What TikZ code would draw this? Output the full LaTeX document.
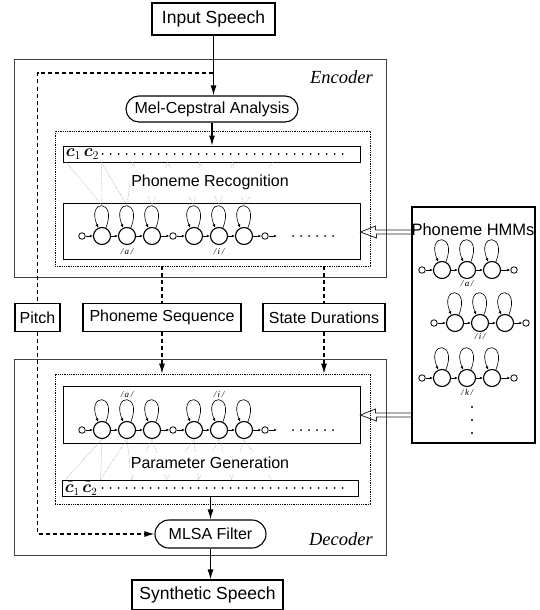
\documentclass[tikz,border=0pt]{standalone}
\usepackage{bm}
\usepackage{fontspec}
\setmainfont{Liberation Serif}
\setsansfont{Liberation Sans}
\usetikzlibrary{arrows.meta}

\newcommand{\tristate}[3]{%
  \foreach \k in {1,2,3}{
    \node[hstate] (#1\k) at ({#2+25*(\k-1)},#3) {};
    \draw[selfloop] (#1\k.65) .. controls +(12,-29) and +(-12,-29) .. (#1\k.115);
  }
  \draw[tr] (#11)--(#12);
  \draw[tr] (#12)--(#13);
}

\begin{document}
\begin{tikzpicture}[x=1pt,y=-1pt,
  blk/.style={draw, line width=1.1pt, font=\sffamily\fontsize{16}{18}\selectfont, inner sep=0pt},
  big/.style={blk, font=\sffamily\fontsize{17.5}{19}\selectfont},
  oval/.style={blk, rounded corners=13pt},
  frame/.style={draw, black!75, line width=0.9pt, inner sep=0pt},
  inbox/.style={draw, densely dotted, line width=0.8pt, inner sep=0pt},
  bar/.style={draw, line width=0.9pt, inner sep=0pt},
  hstate/.style={circle, draw, line width=1.1pt, minimum size=17pt, inner sep=0pt},
  term/.style={circle, draw, line width=0.8pt, minimum size=6.5pt, inner sep=0pt},
  tr/.style={-{Latex[length=3pt,width=2.6pt]}, line width=0.6pt},
  selfloop/.style={-{Latex[length=3.5pt,width=3pt]}, line width=0.6pt},
  sig/.style={-{Latex[length=10pt,width=6pt]}, line width=1.1pt},
  dsh/.style={dash pattern=on 4pt off 3pt, line width=1.1pt},
  fr/.style={gray!70, densely dotted, line width=0.6pt},
  feed/.style={line width=0.8pt, black!85},
  phn/.style={font=\itshape\fontsize{9}{10}\selectfont, inner sep=0pt},
  lbl/.style={font=\itshape\fontsize{18.5}{20}\selectfont, anchor=east, inner sep=0pt},
  txt/.style={font=\sffamily\fontsize{16}{18}\selectfont, fill=white}]

\useasboundingbox (0,0) rectangle (540,610);

\node[big, minimum width=123pt, minimum height=32pt] (inp) at (213.5,19) {Input Speech};
\node[frame, minimum width=372pt, minimum height=218pt] (enc) at (200,168) {};
\node[lbl] at (373,77) {Encoder};
\node[oval, minimum width=172pt, minimum height=26pt] (mel) at (212,109) {Mel-Cepstral Analysis};
\node[inbox, minimum width=315pt, minimum height=135pt] (edot) at (212.5,198.5) {};
\node[bar, minimum width=297pt, minimum height=16pt] (cbar) at (211.5,154) {};
\node[anchor=west, inner sep=0pt, font=\fontsize{16.5}{17}\selectfont] at ([xshift=3pt]cbar.west)
  {$\bm{c}_1\,\bm{c}_2$};
\foreach \k in {0,...,30} \fill ([xshift=40+8*\k]cbar.west) circle (1pt);
\node[bar, minimum width=297pt, minimum height=56pt] (erow) at (211.5,231) {};

% encoder HMM row
\node[term] (ea) at (82,236) {};
\tristate{ea}{102}{236}
\node[term] (em) at (173,236) {};
\tristate{ei}{194}{236}
\node[term] (ez) at (265,236) {};
\coordinate (et) at (277,236);
\draw[tr] (ea)--(ea1); \draw[tr] (ea3)--(em); \draw[tr] (em)--(ei1); \draw[tr] (ei3)--(ez); \draw[tr] (ez)--(et);
\foreach \k in {0,...,5} \fill (293+8*\k,236) circle (1pt);
\node[phn] at ([yshift=-16pt]ea2.center) {/\kern1.5pt a\kern1.5pt/};
\node[phn] at ([yshift=-16pt]ei2.center) {/\kern1.5pt i\kern1.5pt/};

\foreach \f/\s in {4/ea1,39/ea1,39/ea2,70/ea2,70/ea3,105/ea3,105/ei1,137/ei1,137/ei2,170/ei2,170/ei3,210/ei3}
  \draw[fr] ([xshift=\f]cbar.south west) -- ([yshift=21.5pt]\s.north);
\node[txt, inner xsep=1pt, inner ysep=7pt] at (210,182) {Phoneme Recognition};

% phoneme models
\node[blk, minimum width=123pt, minimum height=236pt] (hmm) at (473.5,325) {};
\node[font=\sffamily\fontsize{16.5}{18}\selectfont, inner sep=0pt] at (473,230) {Phoneme HMMs};
\node[term] (haa) at (422,270) {};
\tristate{ha}{442}{270}
\node[term] (haz) at (514,270) {};
\draw[tr] (haa)--(ha1); \draw[tr] (ha3)--(haz);
\node[phn] at ([yshift=-14pt]ha2.center) {/\kern1.5pt a\kern1.5pt/};
\node[term] (hia) at (434,323) {};
\tristate{hi}{455}{323}
\node[term] (hiz) at (526,323) {};
\draw[tr] (hia)--(hi1); \draw[tr] (hi3)--(hiz);
\node[phn] at ([yshift=-14pt]hi2.center) {/\kern1.5pt i\kern1.5pt/};
\node[term] (hka) at (422,378) {};
\tristate{hk}{442}{378}
\node[term] (hkz) at (514,378) {};
\draw[tr] (hka)--(hk1); \draw[tr] (hk3)--(hkz);
\node[phn] at ([yshift=-14pt]hk2.center) {/\kern1.5pt k\kern1.5pt/};
\foreach \y in {407,420,433} \fill (472,\y) circle (1.1pt);

% side information
\node[blk, minimum width=45pt, minimum height=28pt] (pitch) at (37.5,317.5) {Pitch};
\node[blk, minimum width=158pt, minimum height=28pt] (phs) at (162,317.5) {Phoneme Sequence};
\node[blk, minimum width=122pt, minimum height=28pt] (sdur) at (324,317.5) {State Durations};

% decoder
\node[frame, minimum width=372pt, minimum height=196pt] (dec) at (200,457) {};
\node[lbl] at (373,539) {Decoder};
\node[inbox, minimum width=315pt, minimum height=130pt] (ddot) at (212.5,439) {};
\node[bar, minimum width=297pt, minimum height=57pt] (drow) at (211.5,414.5) {};
\node[term] (da) at (82,430) {};
\tristate{da}{102}{430}
\node[term] (dm) at (173,430) {};
\tristate{di}{194}{430}
\node[term] (dz) at (265,430) {};
\coordinate (dt) at (277,430);
\draw[tr] (da)--(da1); \draw[tr] (da3)--(dm); \draw[tr] (dm)--(di1); \draw[tr] (di3)--(dz); \draw[tr] (dz)--(dt);
\foreach \k in {0,...,5} \fill (293+8*\k,430) circle (1pt);
\node[phn] at ([yshift=35pt]da2.center) {/\kern1.5pt a\kern1.5pt/};
\node[phn] at ([yshift=35pt]di2.center) {/\kern1.5pt i\kern1.5pt/};
\node[bar, minimum width=296pt, minimum height=16pt] (dbar) at (210,488) {};
\node[anchor=west, inner sep=0pt, font=\fontsize{16}{17}\selectfont] at ([xshift=3pt,yshift=-0.5pt]dbar.west)
  {$\tilde{\bm{c}}_1\,\tilde{\bm{c}}_2$};
\foreach \k in {0,...,30} \fill ([xshift=41+8*\k]dbar.west) circle (1pt);
\foreach \f/\s in {4/da1,39/da1,39/da2,70/da2,70/da3,105/da3,105/di1,137/di1,137/di2,170/di2,170/di3,210/di3}
  \draw[fr] (\s.south) -- ([xshift=\f]dbar.north west);
\node[txt, inner xsep=1pt, inner ysep=5pt] at (210,463) {Parameter Generation};
\node[oval, minimum width=111pt, minimum height=28pt, rounded corners=14pt] (mlsa) at (210.5,534) {MLSA Filter};
\node[big, minimum width=151pt, minimum height=30pt] (syn) at (207.5,595) {Synthetic Speech};

% connections
\draw[sig] (inp.south) -- (inp.south |- mel.north);
\draw[sig] (mel.south) -- (mel.south |- cbar.north);
\draw[sig] (mlsa.north |- dbar.south) -- (mlsa.north);
\draw[sig] (mlsa.south) -- (mlsa.south |- syn.north);
\coordinate (tap) at (213,73);
\draw[dsh] (tap) -| (pitch.north);
\draw[dsh, -{Latex[length=10pt,width=6pt]}] (pitch.south) |- (mlsa.west);
\draw[dsh] (edot.south -| phs.north) -- (phs.north);
\draw[dsh, -{Latex[length=10pt,width=6pt]}] (phs.south) -- (ddot.north -| phs.south);
\draw[dsh] (edot.south -| sdur.north) -- (sdur.north);
\draw[dsh, -{Latex[length=10pt,width=6pt]}] (sdur.south) -- (ddot.north -| sdur.south);
\coordinate (fa) at (hmm.west |- 0,232);
\coordinate (fb) at (hmm.west |- 0,415);
\draw[feed] (fa) ++(0,-2) -- ++(-36,0) -- ++(0,-4) -- (fa -| erow.east) -- ++(16,6) -- ++(0,-4) -- ++(36,0);
\draw[feed] (fb) ++(0,-2) -- ++(-36,0) -- ++(0,-4) -- (fb -| drow.east) -- ++(16,6) -- ++(0,-4) -- ++(36,0);

\end{tikzpicture}
\end{document}
